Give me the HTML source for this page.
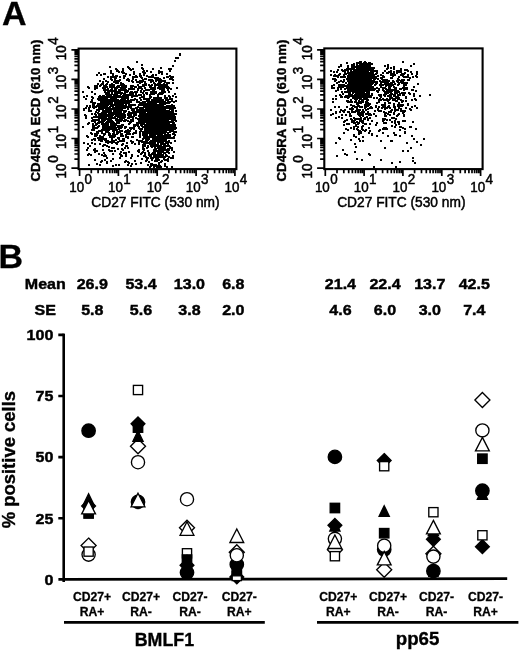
<!DOCTYPE html>
<html lang="en">
<head>
<meta charset="utf-8">
<title>Figure: CD27 / CD45RA phenotype of BMLF1- and pp65-specific cells</title>
<style>
html,body{margin:0;padding:0;background:#fff;}
body{width:520px;height:651px;overflow:hidden;}
svg{display:block;will-change:transform;}
text{font-family:"Liberation Sans",Arial,Helvetica,sans-serif;fill:#000;}
.pl{font-size:34px;font-weight:bold;stroke:#000;stroke-width:0.3px;}
.hd{font-size:15.2px;font-weight:bold;stroke:#000;stroke-width:0.45px;}
.ya{font-size:18.45px;font-weight:bold;stroke:#000;stroke-width:0.35px;}
.ct{font-size:12.15px;font-weight:bold;stroke:#000;stroke-width:0.3px;}
.gp{font-size:17.8px;font-weight:bold;stroke:#000;stroke-width:0.35px;}
.tk{font-size:14.1px;stroke:#000;stroke-width:0.5px;}
.yl{font-size:13.2px;font-weight:bold;stroke:#000;stroke-width:0.4px;}
.xl{font-size:14.6px;stroke:#000;stroke-width:0.5px;}
</style>
</head>
<body>
<svg width="520" height="651" viewBox="0 0 520 651">
<rect x="0" y="0" width="520" height="651" fill="#fff"/>
<g id="panelA">
<text class="pl" x="1.9" y="25.4">A</text>
<path d="M180 54h0M180 55h0M176 58h0M178 58h0M175 61h0M137 62h0M142 65h0M173 66h0M110 67h0M128 67h0M129 68h0M142 68h0M161 68h0M116 69h0M123 69h0M130 69h0M133 69h0M143 69h0M153 69h0M169 69h0M171 69h0M117 70h0M123 70h0M131 70h0M111 71h0M117 71h0M118 71h0M123 71h0M144 71h0M147 71h0M159 71h0M170 71h0M119 72h0M122 72h0M123 72h0M134 72h0M143 72h0M151 72h0M159 72h0M160 72h0M162 72h0M99 73h0M111 73h0M123 73h0M124 73h0M144 73h0M145 73h0M159 73h0M104 74h0M105 74h0M113 74h0M126 74h0M134 74h0M140 74h0M162 74h0M167 74h0M97 75h0M101 75h0M113 75h0M130 75h0M144 75h0M153 75h0M156 75h0M116 76h0M117 76h0M124 76h0M125 76h0M136 76h0M140 76h0M141 76h0M147 76h0M152 76h0M170 76h0M108 77h0M111 77h0M113 77h0M115 77h0M120 77h0M133 77h0M135 77h0M137 77h0M141 77h0M149 77h0M151 77h0M153 77h0M167 77h0M168 77h0M171 77h0M172 77h0M173 77h0M115 78h0M116 78h0M124 78h0M142 78h0M155 78h0M156 78h0M158 78h0M164 78h0M172 78h0M104 79h0M111 79h0M115 79h0M128 79h0M133 79h0M145 79h0M146 79h0M156 79h0M160 79h0M170 79h0M172 79h0M112 80h0M120 80h0M127 80h0M129 80h0M136 80h0M143 80h0M149 80h0M150 80h0M152 80h0M157 80h0M158 80h0M160 80h0M161 80h0M173 80h0M100 81h0M106 81h0M115 81h0M116 81h0M118 81h0M119 81h0M129 81h0M132 81h0M140 81h0M141 81h0M143 81h0M153 81h0M156 81h0M160 81h0M163 81h0M165 81h0M103 82h0M108 82h0M114 82h0M116 82h0M133 82h0M137 82h0M138 82h0M142 82h0M145 82h0M151 82h0M159 82h0M161 82h0M165 82h0M103 83h0M116 83h0M118 83h0M121 83h0M140 83h0M154 83h0M167 83h0M168 83h0M169 83h0M173 83h0M98 84h0M102 84h0M103 84h0M107 84h0M112 84h0M122 84h0M123 84h0M145 84h0M146 84h0M155 84h0M158 84h0M160 84h0M164 84h0M101 85h0M106 85h0M110 85h0M114 85h0M121 85h0M123 85h0M124 85h0M138 85h0M143 85h0M146 85h0M149 85h0M152 85h0M155 85h0M157 85h0M158 85h0M160 85h0M161 85h0M163 85h0M164 85h0M165 85h0M167 85h0M95 86h0M97 86h0M100 86h0M104 86h0M106 86h0M110 86h0M111 86h0M112 86h0M118 86h0M119 86h0M126 86h0M131 86h0M133 86h0M143 86h0M144 86h0M150 86h0M155 86h0M159 86h0M163 86h0M165 86h0M88 87h0M107 87h0M110 87h0M111 87h0M114 87h0M117 87h0M119 87h0M122 87h0M123 87h0M124 87h0M126 87h0M131 87h0M135 87h0M136 87h0M139 87h0M141 87h0M150 87h0M151 87h0M155 87h0M159 87h0M160 87h0M161 87h0M164 87h0M166 87h0M168 87h0M89 88h0M95 88h0M97 88h0M103 88h0M104 88h0M105 88h0M112 88h0M115 88h0M116 88h0M117 88h0M121 88h0M122 88h0M124 88h0M125 88h0M132 88h0M140 88h0M145 88h0M153 88h0M154 88h0M158 88h0M161 88h0M163 88h0M167 88h0M168 88h0M169 88h0M177 88h0M95 89h0M108 89h0M116 89h0M121 89h0M129 89h0M130 89h0M132 89h0M134 89h0M138 89h0M142 89h0M151 89h0M152 89h0M153 89h0M154 89h0M155 89h0M160 89h0M164 89h0M171 89h0M104 90h0M105 90h0M107 90h0M108 90h0M111 90h0M112 90h0M115 90h0M119 90h0M122 90h0M124 90h0M125 90h0M126 90h0M138 90h0M146 90h0M147 90h0M148 90h0M149 90h0M162 90h0M164 90h0M168 90h0M108 91h0M109 91h0M110 91h0M114 91h0M115 91h0M116 91h0M119 91h0M120 91h0M125 91h0M128 91h0M141 91h0M144 91h0M153 91h0M154 91h0M83 92h0M92 92h0M105 92h0M109 92h0M112 92h0M115 92h0M117 92h0M118 92h0M119 92h0M120 92h0M127 92h0M131 92h0M132 92h0M135 92h0M137 92h0M141 92h0M151 92h0M154 92h0M156 92h0M162 92h0M163 92h0M165 92h0M169 92h0M106 93h0M107 93h0M115 93h0M117 93h0M119 93h0M122 93h0M125 93h0M130 93h0M131 93h0M133 93h0M143 93h0M146 93h0M147 93h0M153 93h0M156 93h0M160 93h0M163 93h0M95 94h0M106 94h0M108 94h0M109 94h0M112 94h0M121 94h0M124 94h0M133 94h0M136 94h0M147 94h0M151 94h0M153 94h0M154 94h0M159 94h0M161 94h0M162 94h0M175 94h0M108 95h0M109 95h0M110 95h0M114 95h0M115 95h0M117 95h0M126 95h0M128 95h0M130 95h0M132 95h0M139 95h0M141 95h0M144 95h0M150 95h0M158 95h0M87 96h0M100 96h0M103 96h0M104 96h0M107 96h0M111 96h0M117 96h0M118 96h0M120 96h0M123 96h0M125 96h0M132 96h0M133 96h0M135 96h0M137 96h0M150 96h0M165 96h0M169 96h0M173 96h0M84 97h0M92 97h0M99 97h0M102 97h0M106 97h0M107 97h0M108 97h0M109 97h0M110 97h0M111 97h0M113 97h0M114 97h0M115 97h0M116 97h0M117 97h0M119 97h0M120 97h0M122 97h0M124 97h0M127 97h0M128 97h0M132 97h0M142 97h0M144 97h0M151 97h0M158 97h0M170 97h0M176 97h0M93 98h0M100 98h0M104 98h0M105 98h0M106 98h0M107 98h0M111 98h0M112 98h0M114 98h0M115 98h0M116 98h0M123 98h0M124 98h0M126 98h0M140 98h0M144 98h0M150 98h0M154 98h0M156 98h0M157 98h0M158 98h0M160 98h0M161 98h0M165 98h0M167 98h0M86 99h0M98 99h0M101 99h0M102 99h0M105 99h0M106 99h0M111 99h0M112 99h0M114 99h0M115 99h0M122 99h0M123 99h0M124 99h0M128 99h0M135 99h0M144 99h0M146 99h0M147 99h0M149 99h0M154 99h0M155 99h0M158 99h0M161 99h0M170 99h0M172 99h0M92 100h0M99 100h0M102 100h0M103 100h0M105 100h0M107 100h0M108 100h0M110 100h0M112 100h0M113 100h0M114 100h0M116 100h0M118 100h0M121 100h0M123 100h0M124 100h0M125 100h0M131 100h0M133 100h0M134 100h0M137 100h0M141 100h0M149 100h0M152 100h0M157 100h0M159 100h0M160 100h0M162 100h0M163 100h0M166 100h0M168 100h0M172 100h0M92 101h0M101 101h0M102 101h0M103 101h0M107 101h0M109 101h0M110 101h0M112 101h0M114 101h0M115 101h0M118 101h0M119 101h0M121 101h0M122 101h0M125 101h0M126 101h0M127 101h0M129 101h0M131 101h0M147 101h0M148 101h0M154 101h0M155 101h0M159 101h0M163 101h0M168 101h0M172 101h0M176 101h0M91 102h0M101 102h0M104 102h0M106 102h0M107 102h0M108 102h0M116 102h0M118 102h0M120 102h0M123 102h0M125 102h0M127 102h0M128 102h0M131 102h0M137 102h0M139 102h0M143 102h0M145 102h0M148 102h0M150 102h0M152 102h0M153 102h0M154 102h0M157 102h0M159 102h0M160 102h0M162 102h0M165 102h0M168 102h0M170 102h0M174 102h0M93 103h0M94 103h0M95 103h0M103 103h0M104 103h0M106 103h0M108 103h0M110 103h0M111 103h0M112 103h0M115 103h0M119 103h0M121 103h0M122 103h0M123 103h0M124 103h0M126 103h0M127 103h0M128 103h0M129 103h0M141 103h0M152 103h0M153 103h0M154 103h0M155 103h0M156 103h0M160 103h0M162 103h0M164 103h0M165 103h0M166 103h0M167 103h0M169 103h0M98 104h0M99 104h0M100 104h0M102 104h0M105 104h0M108 104h0M109 104h0M111 104h0M116 104h0M118 104h0M121 104h0M123 104h0M140 104h0M142 104h0M143 104h0M144 104h0M146 104h0M147 104h0M149 104h0M151 104h0M152 104h0M154 104h0M156 104h0M160 104h0M163 104h0M164 104h0M165 104h0M93 105h0M94 105h0M98 105h0M101 105h0M102 105h0M103 105h0M104 105h0M105 105h0M106 105h0M108 105h0M111 105h0M113 105h0M114 105h0M115 105h0M116 105h0M117 105h0M120 105h0M126 105h0M129 105h0M131 105h0M133 105h0M135 105h0M139 105h0M141 105h0M142 105h0M143 105h0M144 105h0M147 105h0M149 105h0M150 105h0M157 105h0M159 105h0M161 105h0M163 105h0M172 105h0M87 106h0M90 106h0M94 106h0M97 106h0M99 106h0M103 106h0M105 106h0M106 106h0M107 106h0M111 106h0M112 106h0M113 106h0M116 106h0M117 106h0M118 106h0M120 106h0M122 106h0M123 106h0M124 106h0M126 106h0M131 106h0M145 106h0M147 106h0M149 106h0M152 106h0M153 106h0M154 106h0M155 106h0M158 106h0M159 106h0M162 106h0M167 106h0M168 106h0M169 106h0M171 106h0M173 106h0M174 106h0M90 107h0M93 107h0M94 107h0M96 107h0M101 107h0M103 107h0M104 107h0M110 107h0M116 107h0M117 107h0M119 107h0M120 107h0M122 107h0M123 107h0M127 107h0M129 107h0M138 107h0M144 107h0M145 107h0M146 107h0M147 107h0M149 107h0M151 107h0M153 107h0M155 107h0M157 107h0M158 107h0M159 107h0M160 107h0M161 107h0M164 107h0M166 107h0M167 107h0M172 107h0M86 108h0M89 108h0M94 108h0M99 108h0M100 108h0M101 108h0M102 108h0M104 108h0M106 108h0M108 108h0M109 108h0M113 108h0M114 108h0M117 108h0M118 108h0M122 108h0M124 108h0M125 108h0M128 108h0M131 108h0M136 108h0M140 108h0M141 108h0M143 108h0M146 108h0M148 108h0M149 108h0M150 108h0M152 108h0M154 108h0M156 108h0M160 108h0M163 108h0M165 108h0M166 108h0M167 108h0M169 108h0M170 108h0M173 108h0M175 108h0M84 109h0M89 109h0M99 109h0M100 109h0M101 109h0M106 109h0M107 109h0M108 109h0M109 109h0M110 109h0M112 109h0M113 109h0M114 109h0M116 109h0M117 109h0M118 109h0M119 109h0M120 109h0M122 109h0M128 109h0M132 109h0M134 109h0M137 109h0M140 109h0M143 109h0M148 109h0M151 109h0M153 109h0M154 109h0M155 109h0M156 109h0M157 109h0M159 109h0M160 109h0M161 109h0M170 109h0M172 109h0M84 110h0M89 110h0M97 110h0M99 110h0M103 110h0M106 110h0M107 110h0M108 110h0M109 110h0M110 110h0M111 110h0M114 110h0M116 110h0M118 110h0M120 110h0M121 110h0M122 110h0M132 110h0M133 110h0M134 110h0M138 110h0M140 110h0M141 110h0M142 110h0M143 110h0M144 110h0M146 110h0M147 110h0M148 110h0M150 110h0M151 110h0M153 110h0M154 110h0M155 110h0M157 110h0M159 110h0M160 110h0M162 110h0M163 110h0M165 110h0M173 110h0M89 111h0M91 111h0M99 111h0M104 111h0M105 111h0M106 111h0M108 111h0M109 111h0M111 111h0M115 111h0M116 111h0M117 111h0M119 111h0M120 111h0M124 111h0M126 111h0M137 111h0M139 111h0M146 111h0M148 111h0M149 111h0M150 111h0M151 111h0M152 111h0M153 111h0M154 111h0M155 111h0M156 111h0M157 111h0M158 111h0M160 111h0M161 111h0M162 111h0M163 111h0M164 111h0M167 111h0M168 111h0M169 111h0M172 111h0M176 111h0M96 112h0M103 112h0M106 112h0M107 112h0M109 112h0M110 112h0M111 112h0M114 112h0M115 112h0M118 112h0M120 112h0M121 112h0M124 112h0M125 112h0M129 112h0M133 112h0M135 112h0M138 112h0M140 112h0M141 112h0M143 112h0M144 112h0M145 112h0M148 112h0M149 112h0M150 112h0M151 112h0M152 112h0M154 112h0M156 112h0M157 112h0M158 112h0M159 112h0M160 112h0M161 112h0M162 112h0M163 112h0M165 112h0M167 112h0M169 112h0M170 112h0M171 112h0M173 112h0M98 113h0M102 113h0M103 113h0M104 113h0M105 113h0M109 113h0M110 113h0M112 113h0M113 113h0M115 113h0M116 113h0M119 113h0M121 113h0M130 113h0M132 113h0M136 113h0M141 113h0M143 113h0M144 113h0M149 113h0M150 113h0M151 113h0M152 113h0M153 113h0M155 113h0M156 113h0M158 113h0M159 113h0M161 113h0M162 113h0M163 113h0M164 113h0M165 113h0M166 113h0M167 113h0M171 113h0M172 113h0M92 114h0M95 114h0M99 114h0M101 114h0M102 114h0M103 114h0M104 114h0M105 114h0M106 114h0M111 114h0M112 114h0M113 114h0M114 114h0M116 114h0M117 114h0M118 114h0M119 114h0M120 114h0M121 114h0M122 114h0M123 114h0M124 114h0M128 114h0M134 114h0M140 114h0M141 114h0M142 114h0M146 114h0M147 114h0M148 114h0M150 114h0M151 114h0M152 114h0M153 114h0M155 114h0M156 114h0M157 114h0M158 114h0M159 114h0M160 114h0M161 114h0M162 114h0M163 114h0M165 114h0M167 114h0M169 114h0M172 114h0M174 114h0M176 114h0M85 115h0M96 115h0M99 115h0M103 115h0M106 115h0M107 115h0M109 115h0M113 115h0M117 115h0M119 115h0M121 115h0M122 115h0M125 115h0M128 115h0M129 115h0M131 115h0M136 115h0M140 115h0M142 115h0M143 115h0M145 115h0M146 115h0M148 115h0M149 115h0M153 115h0M154 115h0M155 115h0M156 115h0M157 115h0M158 115h0M159 115h0M160 115h0M161 115h0M162 115h0M163 115h0M164 115h0M165 115h0M168 115h0M169 115h0M170 115h0M171 115h0M172 115h0M174 115h0M86 116h0M96 116h0M100 116h0M102 116h0M104 116h0M105 116h0M106 116h0M108 116h0M110 116h0M111 116h0M112 116h0M116 116h0M117 116h0M124 116h0M129 116h0M131 116h0M134 116h0M139 116h0M141 116h0M145 116h0M147 116h0M148 116h0M149 116h0M150 116h0M151 116h0M153 116h0M155 116h0M156 116h0M158 116h0M159 116h0M160 116h0M162 116h0M163 116h0M164 116h0M165 116h0M166 116h0M167 116h0M168 116h0M169 116h0M170 116h0M171 116h0M173 116h0M94 117h0M95 117h0M96 117h0M97 117h0M99 117h0M100 117h0M102 117h0M105 117h0M110 117h0M111 117h0M115 117h0M118 117h0M119 117h0M120 117h0M122 117h0M124 117h0M125 117h0M131 117h0M132 117h0M133 117h0M141 117h0M142 117h0M143 117h0M144 117h0M148 117h0M149 117h0M150 117h0M151 117h0M152 117h0M154 117h0M155 117h0M156 117h0M157 117h0M158 117h0M159 117h0M160 117h0M161 117h0M163 117h0M166 117h0M167 117h0M168 117h0M169 117h0M172 117h0M175 117h0M86 118h0M92 118h0M99 118h0M100 118h0M102 118h0M104 118h0M106 118h0M109 118h0M111 118h0M112 118h0M114 118h0M115 118h0M124 118h0M128 118h0M129 118h0M133 118h0M136 118h0M140 118h0M141 118h0M144 118h0M146 118h0M148 118h0M152 118h0M153 118h0M154 118h0M155 118h0M156 118h0M157 118h0M158 118h0M159 118h0M160 118h0M162 118h0M163 118h0M164 118h0M169 118h0M170 118h0M172 118h0M174 118h0M102 119h0M103 119h0M106 119h0M108 119h0M110 119h0M111 119h0M116 119h0M117 119h0M120 119h0M121 119h0M122 119h0M138 119h0M139 119h0M140 119h0M142 119h0M143 119h0M144 119h0M147 119h0M149 119h0M150 119h0M151 119h0M152 119h0M155 119h0M156 119h0M158 119h0M159 119h0M160 119h0M161 119h0M162 119h0M164 119h0M165 119h0M167 119h0M169 119h0M170 119h0M173 119h0M174 119h0M175 119h0M93 120h0M95 120h0M97 120h0M98 120h0M99 120h0M105 120h0M109 120h0M116 120h0M118 120h0M119 120h0M122 120h0M125 120h0M126 120h0M131 120h0M133 120h0M141 120h0M142 120h0M146 120h0M149 120h0M150 120h0M151 120h0M152 120h0M153 120h0M154 120h0M155 120h0M156 120h0M157 120h0M158 120h0M160 120h0M161 120h0M162 120h0M163 120h0M165 120h0M166 120h0M168 120h0M172 120h0M173 120h0M175 120h0M92 121h0M93 121h0M99 121h0M102 121h0M104 121h0M108 121h0M110 121h0M112 121h0M119 121h0M121 121h0M124 121h0M125 121h0M128 121h0M131 121h0M133 121h0M139 121h0M143 121h0M145 121h0M147 121h0M149 121h0M151 121h0M152 121h0M153 121h0M155 121h0M156 121h0M157 121h0M158 121h0M159 121h0M160 121h0M161 121h0M162 121h0M163 121h0M164 121h0M165 121h0M167 121h0M168 121h0M173 121h0M176 121h0M95 122h0M101 122h0M102 122h0M103 122h0M107 122h0M108 122h0M109 122h0M110 122h0M111 122h0M112 122h0M113 122h0M117 122h0M118 122h0M119 122h0M130 122h0M131 122h0M139 122h0M141 122h0M142 122h0M143 122h0M144 122h0M146 122h0M147 122h0M148 122h0M150 122h0M151 122h0M152 122h0M153 122h0M154 122h0M155 122h0M157 122h0M159 122h0M160 122h0M161 122h0M162 122h0M164 122h0M165 122h0M168 122h0M169 122h0M171 122h0M173 122h0M89 123h0M98 123h0M99 123h0M102 123h0M103 123h0M106 123h0M108 123h0M111 123h0M114 123h0M117 123h0M118 123h0M119 123h0M130 123h0M137 123h0M139 123h0M142 123h0M143 123h0M147 123h0M148 123h0M149 123h0M151 123h0M152 123h0M153 123h0M154 123h0M155 123h0M156 123h0M158 123h0M159 123h0M161 123h0M162 123h0M163 123h0M164 123h0M165 123h0M166 123h0M168 123h0M173 123h0M174 123h0M88 124h0M93 124h0M96 124h0M97 124h0M102 124h0M103 124h0M105 124h0M106 124h0M108 124h0M111 124h0M112 124h0M115 124h0M116 124h0M129 124h0M137 124h0M138 124h0M141 124h0M143 124h0M144 124h0M147 124h0M148 124h0M150 124h0M151 124h0M152 124h0M153 124h0M154 124h0M155 124h0M156 124h0M158 124h0M159 124h0M160 124h0M161 124h0M162 124h0M164 124h0M165 124h0M169 124h0M174 124h0M93 125h0M96 125h0M103 125h0M104 125h0M108 125h0M112 125h0M113 125h0M114 125h0M116 125h0M122 125h0M123 125h0M134 125h0M136 125h0M137 125h0M141 125h0M142 125h0M145 125h0M146 125h0M147 125h0M148 125h0M149 125h0M150 125h0M151 125h0M152 125h0M153 125h0M154 125h0M155 125h0M156 125h0M157 125h0M158 125h0M159 125h0M161 125h0M162 125h0M163 125h0M164 125h0M166 125h0M167 125h0M169 125h0M170 125h0M171 125h0M172 125h0M173 125h0M175 125h0M94 126h0M99 126h0M104 126h0M105 126h0M106 126h0M111 126h0M113 126h0M114 126h0M118 126h0M120 126h0M122 126h0M135 126h0M138 126h0M142 126h0M148 126h0M149 126h0M152 126h0M153 126h0M154 126h0M155 126h0M156 126h0M157 126h0M158 126h0M159 126h0M160 126h0M161 126h0M163 126h0M164 126h0M165 126h0M167 126h0M168 126h0M170 126h0M172 126h0M174 126h0M175 126h0M83 127h0M93 127h0M98 127h0M103 127h0M104 127h0M107 127h0M108 127h0M109 127h0M110 127h0M115 127h0M118 127h0M121 127h0M122 127h0M125 127h0M126 127h0M134 127h0M139 127h0M143 127h0M145 127h0M146 127h0M148 127h0M149 127h0M150 127h0M152 127h0M153 127h0M154 127h0M155 127h0M156 127h0M157 127h0M158 127h0M159 127h0M160 127h0M161 127h0M163 127h0M164 127h0M166 127h0M167 127h0M168 127h0M175 127h0M93 128h0M95 128h0M97 128h0M103 128h0M104 128h0M105 128h0M107 128h0M108 128h0M110 128h0M111 128h0M113 128h0M114 128h0M115 128h0M116 128h0M120 128h0M121 128h0M125 128h0M130 128h0M132 128h0M139 128h0M145 128h0M148 128h0M150 128h0M151 128h0M154 128h0M155 128h0M157 128h0M158 128h0M159 128h0M161 128h0M162 128h0M164 128h0M165 128h0M166 128h0M167 128h0M168 128h0M169 128h0M170 128h0M172 128h0M174 128h0M176 128h0M94 129h0M103 129h0M105 129h0M107 129h0M108 129h0M109 129h0M111 129h0M113 129h0M116 129h0M119 129h0M131 129h0M134 129h0M140 129h0M142 129h0M146 129h0M149 129h0M150 129h0M151 129h0M152 129h0M153 129h0M155 129h0M157 129h0M159 129h0M160 129h0M164 129h0M165 129h0M167 129h0M169 129h0M173 129h0M175 129h0M92 130h0M94 130h0M102 130h0M104 130h0M106 130h0M108 130h0M109 130h0M113 130h0M115 130h0M117 130h0M128 130h0M145 130h0M146 130h0M147 130h0M149 130h0M150 130h0M153 130h0M154 130h0M155 130h0M156 130h0M157 130h0M159 130h0M160 130h0M161 130h0M162 130h0M163 130h0M167 130h0M168 130h0M170 130h0M171 130h0M99 131h0M101 131h0M108 131h0M113 131h0M114 131h0M120 131h0M121 131h0M122 131h0M126 131h0M130 131h0M136 131h0M141 131h0M146 131h0M148 131h0M149 131h0M152 131h0M153 131h0M154 131h0M157 131h0M158 131h0M160 131h0M161 131h0M162 131h0M163 131h0M165 131h0M171 131h0M172 131h0M173 131h0M97 132h0M102 132h0M106 132h0M107 132h0M114 132h0M117 132h0M119 132h0M120 132h0M125 132h0M127 132h0M128 132h0M129 132h0M140 132h0M143 132h0M145 132h0M147 132h0M148 132h0M150 132h0M155 132h0M156 132h0M160 132h0M161 132h0M162 132h0M164 132h0M165 132h0M166 132h0M170 132h0M174 132h0M176 132h0M91 133h0M98 133h0M102 133h0M109 133h0M114 133h0M117 133h0M118 133h0M134 133h0M136 133h0M140 133h0M143 133h0M144 133h0M146 133h0M148 133h0M150 133h0M152 133h0M154 133h0M156 133h0M157 133h0M158 133h0M159 133h0M161 133h0M164 133h0M165 133h0M168 133h0M174 133h0M92 134h0M95 134h0M97 134h0M104 134h0M105 134h0M109 134h0M110 134h0M113 134h0M117 134h0M121 134h0M122 134h0M127 134h0M128 134h0M130 134h0M133 134h0M143 134h0M146 134h0M150 134h0M151 134h0M154 134h0M155 134h0M156 134h0M157 134h0M159 134h0M160 134h0M161 134h0M162 134h0M165 134h0M168 134h0M173 134h0M174 134h0M97 135h0M104 135h0M109 135h0M115 135h0M126 135h0M140 135h0M143 135h0M145 135h0M146 135h0M147 135h0M150 135h0M151 135h0M152 135h0M153 135h0M155 135h0M158 135h0M159 135h0M160 135h0M161 135h0M162 135h0M165 135h0M166 135h0M170 135h0M175 135h0M87 136h0M95 136h0M96 136h0M100 136h0M111 136h0M112 136h0M114 136h0M115 136h0M121 136h0M123 136h0M140 136h0M146 136h0M150 136h0M152 136h0M153 136h0M154 136h0M158 136h0M159 136h0M161 136h0M162 136h0M163 136h0M164 136h0M165 136h0M166 136h0M168 136h0M169 136h0M170 136h0M88 137h0M100 137h0M101 137h0M102 137h0M103 137h0M110 137h0M111 137h0M114 137h0M126 137h0M128 137h0M132 137h0M133 137h0M140 137h0M144 137h0M148 137h0M150 137h0M151 137h0M153 137h0M154 137h0M155 137h0M156 137h0M157 137h0M158 137h0M159 137h0M160 137h0M162 137h0M164 137h0M166 137h0M167 137h0M168 137h0M170 137h0M174 137h0M98 138h0M100 138h0M112 138h0M118 138h0M119 138h0M128 138h0M144 138h0M145 138h0M146 138h0M153 138h0M155 138h0M156 138h0M157 138h0M160 138h0M161 138h0M163 138h0M164 138h0M165 138h0M167 138h0M168 138h0M170 138h0M171 138h0M173 138h0M174 138h0M94 139h0M95 139h0M99 139h0M102 139h0M104 139h0M106 139h0M112 139h0M119 139h0M123 139h0M124 139h0M143 139h0M147 139h0M148 139h0M149 139h0M154 139h0M157 139h0M158 139h0M160 139h0M162 139h0M164 139h0M92 140h0M95 140h0M99 140h0M100 140h0M105 140h0M106 140h0M112 140h0M116 140h0M137 140h0M146 140h0M148 140h0M153 140h0M154 140h0M155 140h0M157 140h0M158 140h0M160 140h0M162 140h0M164 140h0M165 140h0M166 140h0M101 141h0M102 141h0M108 141h0M112 141h0M114 141h0M120 141h0M122 141h0M124 141h0M131 141h0M139 141h0M140 141h0M142 141h0M147 141h0M151 141h0M153 141h0M156 141h0M157 141h0M158 141h0M159 141h0M161 141h0M162 141h0M163 141h0M164 141h0M165 141h0M169 141h0M175 141h0M106 142h0M109 142h0M111 142h0M114 142h0M118 142h0M132 142h0M133 142h0M142 142h0M143 142h0M145 142h0M150 142h0M152 142h0M154 142h0M155 142h0M160 142h0M162 142h0M163 142h0M167 142h0M169 142h0M84 143h0M92 143h0M108 143h0M112 143h0M116 143h0M127 143h0M132 143h0M139 143h0M144 143h0M145 143h0M147 143h0M148 143h0M149 143h0M152 143h0M158 143h0M161 143h0M162 143h0M163 143h0M166 143h0M171 143h0M88 144h0M95 144h0M100 144h0M117 144h0M123 144h0M135 144h0M139 144h0M145 144h0M150 144h0M152 144h0M153 144h0M155 144h0M161 144h0M162 144h0M163 144h0M164 144h0M165 144h0M168 144h0M104 145h0M105 145h0M122 145h0M143 145h0M153 145h0M154 145h0M156 145h0M157 145h0M158 145h0M164 145h0M90 146h0M103 146h0M107 146h0M126 146h0M127 146h0M145 146h0M148 146h0M151 146h0M153 146h0M154 146h0M156 146h0M158 146h0M159 146h0M161 146h0M165 146h0M167 146h0M169 146h0M109 147h0M143 147h0M148 147h0M152 147h0M163 147h0M164 147h0M170 147h0M88 148h0M112 148h0M114 148h0M125 148h0M128 148h0M147 148h0M155 148h0M158 148h0M159 148h0M160 148h0M161 148h0M162 148h0M163 148h0M164 148h0M165 148h0M170 148h0M172 148h0M95 149h0M118 149h0M122 149h0M143 149h0M144 149h0M156 149h0M164 149h0M168 149h0M87 150h0M94 150h0M95 150h0M103 150h0M109 150h0M123 150h0M139 150h0M144 150h0M154 150h0M159 150h0M160 150h0M161 150h0M162 150h0M164 150h0M166 150h0M169 150h0M172 150h0M97 151h0M110 151h0M112 151h0M115 151h0M138 151h0M148 151h0M154 151h0M155 151h0M157 151h0M158 151h0M162 151h0M168 151h0M95 152h0M121 152h0M129 152h0M139 152h0M143 152h0M155 152h0M159 152h0M160 152h0M163 152h0M167 152h0M168 152h0M174 152h0M104 153h0M124 153h0M126 153h0M142 153h0M145 153h0M149 153h0M153 153h0M158 153h0M160 153h0M161 153h0M164 153h0M165 153h0M169 153h0M89 154h0M99 154h0M113 154h0M120 154h0M126 154h0M141 154h0M152 154h0M154 154h0M155 154h0M158 154h0M88 155h0M91 155h0M102 155h0M105 155h0M121 155h0M132 155h0M145 155h0M149 155h0M150 155h0M151 155h0M154 155h0M156 155h0M158 155h0M160 155h0M162 155h0M163 155h0M166 155h0M104 156h0M106 156h0M121 156h0M122 156h0M126 156h0M132 156h0M138 156h0M144 156h0M150 156h0M151 156h0M156 156h0M157 156h0M158 156h0M160 156h0M161 156h0M163 156h0M167 156h0M173 156h0M146 157h0M154 157h0M156 157h0M157 157h0M159 157h0M161 157h0M162 157h0M164 157h0M165 157h0M169 157h0M107 158h0M120 158h0M131 158h0M148 158h0M151 158h0M153 158h0M156 158h0M157 158h0M171 158h0M173 158h0M113 159h0M142 159h0M147 159h0M158 159h0M164 159h0M168 159h0M95 160h0M105 160h0M147 160h0M152 160h0M156 160h0M159 160h0M165 160h0M166 160h0M168 160h0M102 161h0M111 161h0M126 161h0M135 161h0M146 161h0M155 161h0M157 161h0M162 161h0M168 161h0M101 162h0M107 162h0M125 162h0M128 162h0M149 162h0M161 162h0M107 163h0M129 163h0M141 163h0M159 163h0M97 164h0M132 164h0M136 164h0M151 164h0M152 164h0M165 164h0M89 165h0M100 165h0M116 165h0M119 165h0M128 165h0M148 165h0M153 165h0M155 165h0M156 165h0M159 165h0M165 165h0M113 166h0M131 166h0M151 166h0M154 166h0M156 166h0M157 166h0M158 166h0M160 166h0M165 166h0M150 167h0M154 167h0M157 167h0M158 167h0M159 167h0M161 167h0M167 167h0M172 167h0" fill="none" stroke="#000" shape-rendering="crispEdges" stroke-width="2" stroke-linecap="square"/>
<rect x="78.6" y="48.6" width="157.8" height="120.5" fill="none" stroke="#000" stroke-width="2.1"/><path d="M79.6 169.1v7M78.6 168.1h-7.2M91.3 169.1v4.2M78.6 159.2h-4.2M98.1 169.1v4.2M78.6 154h-4.2M103 169.1v4.2M78.6 150.3h-4.2M106.7 169.1v4.2M78.6 147.4h-4.2M109.8 169.1v4.2M78.6 145.1h-4.2M112.4 169.1v4.2M78.6 143.1h-4.2M114.7 169.1v4.2M78.6 141.4h-4.2M116.6 169.1v4.2M78.6 139.9h-4.2M118.4 169.1v7M78.6 138.5h-7.2M130.1 169.1v4.2M78.6 129.7h-4.2M136.9 169.1v4.2M78.6 124.5h-4.2M141.8 169.1v4.2M78.6 120.8h-4.2M145.6 169.1v4.2M78.6 117.9h-4.2M148.6 169.1v4.2M78.6 115.6h-4.2M151.2 169.1v4.2M78.6 113.6h-4.2M153.5 169.1v4.2M78.6 111.9h-4.2M155.5 169.1v4.2M78.6 110.4h-4.2M157.2 169.1v7M78.6 109h-7.2M168.9 169.1v4.2M78.6 100.1h-4.2M175.8 169.1v4.2M78.6 94.9h-4.2M180.6 169.1v4.2M78.6 91.2h-4.2M184.4 169.1v4.2M78.6 88.3h-4.2M187.4 169.1v4.2M78.6 86h-4.2M190 169.1v4.2M78.6 84h-4.2M192.3 169.1v4.2M78.6 82.3h-4.2M194.3 169.1v4.2M78.6 80.8h-4.2M196.1 169.1v7M78.6 79.4h-7.2M207.7 169.1v4.2M78.6 70.6h-4.2M214.6 169.1v4.2M78.6 65.4h-4.2M219.4 169.1v4.2M78.6 61.7h-4.2M223.2 169.1v4.2M78.6 58.8h-4.2M226.3 169.1v4.2M78.6 56.5h-4.2M228.9 169.1v4.2M78.6 54.5h-4.2M231.1 169.1v4.2M78.6 52.8h-4.2M233.1 169.1v4.2M78.6 51.3h-4.2M234.9 169.1v7M78.6 49.9h-7.2" stroke="#000" stroke-width="1.7" fill="none"/>
<text class="tk" transform="translate(69.2 192.2) scale(0.95 1)">10<tspan dy="-8" dx="0.4">0</tspan></text><text class="tk" transform="translate(66 178.5) rotate(-90) scale(0.95 1)">10<tspan dy="-8.4" dx="0.8">0</tspan></text><text class="tk" transform="translate(108 192.2) scale(0.95 1)">10<tspan dy="-8" dx="0.4">1</tspan></text><text class="tk" transform="translate(66 148.9) rotate(-90) scale(0.95 1)">10<tspan dy="-8.4" dx="0.8">1</tspan></text><text class="tk" transform="translate(146.8 192.2) scale(0.95 1)">10<tspan dy="-8" dx="0.4">2</tspan></text><text class="tk" transform="translate(66 119.4) rotate(-90) scale(0.95 1)">10<tspan dy="-8.4" dx="0.8">2</tspan></text><text class="tk" transform="translate(185.7 192.2) scale(0.95 1)">10<tspan dy="-8" dx="0.4">3</tspan></text><text class="tk" transform="translate(66 89.8) rotate(-90) scale(0.95 1)">10<tspan dy="-8.4" dx="0.8">3</tspan></text><text class="tk" transform="translate(224.5 192.2) scale(0.95 1)">10<tspan dy="-8" dx="0.4">4</tspan></text><text class="tk" transform="translate(66 60.3) rotate(-90) scale(0.95 1)">10<tspan dy="-8.4" dx="0.8">4</tspan></text>
<text class="yl" transform="translate(39.7 181.4) rotate(-90)">CD45RA ECD (610 nm)</text>
<text class="xl" transform="translate(91.3 206.9) scale(0.942 1)">CD27 FITC (530 nm)</text>
<path d="M360 62h0M361 62h0M365 62h0M403 62h0M347 63h0M357 63h0M359 63h0M364 63h0M365 63h0M366 63h0M369 63h0M370 63h0M354 64h0M360 64h0M361 64h0M363 64h0M364 64h0M365 64h0M366 64h0M368 64h0M372 64h0M414 64h0M341 65h0M352 65h0M354 65h0M357 65h0M363 65h0M365 65h0M366 65h0M370 65h0M388 65h0M341 66h0M348 66h0M357 66h0M359 66h0M360 66h0M361 66h0M362 66h0M363 66h0M364 66h0M366 66h0M367 66h0M369 66h0M385 66h0M411 66h0M339 67h0M348 67h0M352 67h0M353 67h0M354 67h0M355 67h0M356 67h0M357 67h0M358 67h0M359 67h0M360 67h0M361 67h0M362 67h0M363 67h0M366 67h0M367 67h0M368 67h0M369 67h0M370 67h0M388 67h0M394 67h0M354 68h0M357 68h0M358 68h0M359 68h0M360 68h0M361 68h0M362 68h0M363 68h0M365 68h0M366 68h0M367 68h0M368 68h0M372 68h0M374 68h0M388 68h0M391 68h0M347 69h0M349 69h0M350 69h0M352 69h0M353 69h0M357 69h0M358 69h0M360 69h0M362 69h0M363 69h0M364 69h0M365 69h0M367 69h0M368 69h0M370 69h0M371 69h0M387 69h0M394 69h0M401 69h0M338 70h0M342 70h0M345 70h0M347 70h0M354 70h0M355 70h0M357 70h0M358 70h0M359 70h0M360 70h0M361 70h0M362 70h0M363 70h0M365 70h0M366 70h0M367 70h0M368 70h0M369 70h0M371 70h0M373 70h0M405 70h0M406 70h0M407 70h0M331 71h0M343 71h0M344 71h0M348 71h0M351 71h0M354 71h0M355 71h0M356 71h0M357 71h0M358 71h0M360 71h0M361 71h0M362 71h0M363 71h0M364 71h0M365 71h0M366 71h0M367 71h0M368 71h0M372 71h0M375 71h0M377 71h0M385 71h0M391 71h0M397 71h0M399 71h0M401 71h0M408 71h0M334 72h0M337 72h0M345 72h0M352 72h0M353 72h0M354 72h0M355 72h0M356 72h0M357 72h0M358 72h0M359 72h0M360 72h0M361 72h0M362 72h0M363 72h0M365 72h0M366 72h0M367 72h0M371 72h0M373 72h0M377 72h0M389 72h0M391 72h0M394 72h0M397 72h0M399 72h0M400 72h0M401 72h0M411 72h0M417 72h0M345 73h0M348 73h0M349 73h0M351 73h0M352 73h0M354 73h0M355 73h0M356 73h0M357 73h0M358 73h0M359 73h0M360 73h0M361 73h0M362 73h0M363 73h0M365 73h0M366 73h0M367 73h0M369 73h0M370 73h0M377 73h0M383 73h0M387 73h0M388 73h0M397 73h0M405 73h0M340 74h0M346 74h0M349 74h0M351 74h0M352 74h0M353 74h0M354 74h0M355 74h0M356 74h0M357 74h0M358 74h0M359 74h0M360 74h0M361 74h0M362 74h0M363 74h0M364 74h0M365 74h0M366 74h0M367 74h0M368 74h0M370 74h0M371 74h0M373 74h0M376 74h0M391 74h0M392 74h0M393 74h0M394 74h0M402 74h0M403 74h0M404 74h0M412 74h0M417 74h0M331 75h0M335 75h0M339 75h0M344 75h0M350 75h0M351 75h0M352 75h0M353 75h0M354 75h0M355 75h0M356 75h0M357 75h0M358 75h0M359 75h0M360 75h0M361 75h0M362 75h0M363 75h0M364 75h0M365 75h0M366 75h0M367 75h0M368 75h0M369 75h0M370 75h0M371 75h0M372 75h0M373 75h0M374 75h0M381 75h0M391 75h0M394 75h0M395 75h0M401 75h0M408 75h0M334 76h0M336 76h0M338 76h0M348 76h0M349 76h0M351 76h0M354 76h0M356 76h0M357 76h0M358 76h0M359 76h0M360 76h0M361 76h0M362 76h0M363 76h0M364 76h0M365 76h0M366 76h0M367 76h0M368 76h0M369 76h0M370 76h0M371 76h0M372 76h0M373 76h0M374 76h0M378 76h0M383 76h0M393 76h0M403 76h0M416 76h0M338 77h0M341 77h0M343 77h0M345 77h0M349 77h0M350 77h0M351 77h0M353 77h0M354 77h0M355 77h0M356 77h0M357 77h0M358 77h0M359 77h0M360 77h0M361 77h0M362 77h0M363 77h0M364 77h0M365 77h0M366 77h0M367 77h0M368 77h0M369 77h0M371 77h0M373 77h0M376 77h0M384 77h0M399 77h0M404 77h0M406 77h0M408 77h0M413 77h0M417 77h0M348 78h0M350 78h0M351 78h0M353 78h0M354 78h0M355 78h0M356 78h0M357 78h0M358 78h0M359 78h0M360 78h0M361 78h0M362 78h0M363 78h0M364 78h0M365 78h0M366 78h0M367 78h0M368 78h0M369 78h0M370 78h0M372 78h0M373 78h0M375 78h0M376 78h0M381 78h0M382 78h0M391 78h0M392 78h0M410 78h0M333 79h0M335 79h0M347 79h0M350 79h0M352 79h0M353 79h0M354 79h0M355 79h0M356 79h0M357 79h0M358 79h0M359 79h0M360 79h0M361 79h0M362 79h0M363 79h0M364 79h0M365 79h0M366 79h0M367 79h0M368 79h0M369 79h0M371 79h0M374 79h0M375 79h0M378 79h0M382 79h0M398 79h0M336 80h0M344 80h0M349 80h0M352 80h0M353 80h0M354 80h0M355 80h0M356 80h0M357 80h0M358 80h0M359 80h0M360 80h0M361 80h0M362 80h0M363 80h0M364 80h0M365 80h0M366 80h0M367 80h0M368 80h0M369 80h0M370 80h0M371 80h0M383 80h0M385 80h0M386 80h0M387 80h0M399 80h0M402 80h0M404 80h0M408 80h0M409 80h0M335 81h0M341 81h0M344 81h0M348 81h0M351 81h0M353 81h0M354 81h0M355 81h0M356 81h0M357 81h0M358 81h0M359 81h0M360 81h0M361 81h0M362 81h0M363 81h0M364 81h0M365 81h0M366 81h0M367 81h0M368 81h0M369 81h0M371 81h0M372 81h0M374 81h0M380 81h0M383 81h0M384 81h0M385 81h0M389 81h0M393 81h0M397 81h0M398 81h0M401 81h0M403 81h0M339 82h0M343 82h0M349 82h0M351 82h0M352 82h0M353 82h0M354 82h0M355 82h0M356 82h0M357 82h0M358 82h0M359 82h0M360 82h0M361 82h0M362 82h0M363 82h0M364 82h0M365 82h0M366 82h0M367 82h0M368 82h0M369 82h0M370 82h0M372 82h0M375 82h0M377 82h0M382 82h0M384 82h0M386 82h0M388 82h0M394 82h0M398 82h0M401 82h0M402 82h0M403 82h0M337 83h0M346 83h0M349 83h0M350 83h0M351 83h0M353 83h0M354 83h0M355 83h0M356 83h0M357 83h0M358 83h0M359 83h0M360 83h0M361 83h0M362 83h0M363 83h0M364 83h0M365 83h0M366 83h0M367 83h0M368 83h0M369 83h0M370 83h0M372 83h0M373 83h0M377 83h0M381 83h0M385 83h0M391 83h0M392 83h0M399 83h0M402 83h0M403 83h0M404 83h0M405 83h0M406 83h0M407 83h0M351 84h0M352 84h0M353 84h0M354 84h0M355 84h0M356 84h0M357 84h0M358 84h0M359 84h0M360 84h0M361 84h0M362 84h0M363 84h0M364 84h0M365 84h0M366 84h0M367 84h0M370 84h0M372 84h0M376 84h0M381 84h0M385 84h0M386 84h0M388 84h0M390 84h0M392 84h0M395 84h0M399 84h0M405 84h0M418 84h0M334 85h0M339 85h0M341 85h0M342 85h0M344 85h0M348 85h0M349 85h0M350 85h0M352 85h0M353 85h0M354 85h0M355 85h0M356 85h0M357 85h0M358 85h0M359 85h0M360 85h0M361 85h0M362 85h0M363 85h0M364 85h0M365 85h0M366 85h0M367 85h0M368 85h0M371 85h0M375 85h0M380 85h0M382 85h0M383 85h0M388 85h0M389 85h0M391 85h0M392 85h0M393 85h0M398 85h0M404 85h0M405 85h0M406 85h0M332 86h0M345 86h0M346 86h0M348 86h0M349 86h0M350 86h0M353 86h0M354 86h0M356 86h0M357 86h0M358 86h0M359 86h0M360 86h0M361 86h0M362 86h0M364 86h0M365 86h0M366 86h0M367 86h0M368 86h0M369 86h0M370 86h0M371 86h0M386 86h0M389 86h0M391 86h0M404 86h0M332 87h0M339 87h0M340 87h0M341 87h0M342 87h0M343 87h0M348 87h0M352 87h0M353 87h0M354 87h0M355 87h0M356 87h0M358 87h0M359 87h0M360 87h0M361 87h0M362 87h0M363 87h0M364 87h0M365 87h0M366 87h0M367 87h0M368 87h0M369 87h0M370 87h0M371 87h0M372 87h0M373 87h0M381 87h0M389 87h0M390 87h0M394 87h0M414 87h0M332 88h0M334 88h0M338 88h0M347 88h0M348 88h0M349 88h0M350 88h0M352 88h0M353 88h0M354 88h0M357 88h0M358 88h0M359 88h0M360 88h0M361 88h0M362 88h0M363 88h0M364 88h0M365 88h0M366 88h0M367 88h0M369 88h0M370 88h0M371 88h0M372 88h0M377 88h0M383 88h0M385 88h0M389 88h0M395 88h0M396 88h0M403 88h0M405 88h0M407 88h0M341 89h0M345 89h0M348 89h0M350 89h0M352 89h0M353 89h0M355 89h0M356 89h0M358 89h0M359 89h0M360 89h0M361 89h0M362 89h0M363 89h0M364 89h0M365 89h0M367 89h0M371 89h0M372 89h0M373 89h0M375 89h0M379 89h0M386 89h0M390 89h0M396 89h0M400 89h0M401 89h0M406 89h0M407 89h0M338 90h0M352 90h0M353 90h0M354 90h0M355 90h0M356 90h0M358 90h0M359 90h0M360 90h0M361 90h0M362 90h0M363 90h0M364 90h0M365 90h0M367 90h0M368 90h0M370 90h0M371 90h0M373 90h0M374 90h0M379 90h0M383 90h0M388 90h0M392 90h0M393 90h0M394 90h0M404 90h0M412 90h0M413 90h0M336 91h0M348 91h0M350 91h0M352 91h0M353 91h0M355 91h0M356 91h0M357 91h0M359 91h0M361 91h0M362 91h0M364 91h0M366 91h0M367 91h0M368 91h0M377 91h0M384 91h0M387 91h0M389 91h0M390 91h0M392 91h0M395 91h0M396 91h0M398 91h0M416 91h0M342 92h0M345 92h0M346 92h0M347 92h0M350 92h0M353 92h0M354 92h0M357 92h0M358 92h0M360 92h0M361 92h0M362 92h0M363 92h0M364 92h0M367 92h0M368 92h0M369 92h0M378 92h0M386 92h0M390 92h0M397 92h0M399 92h0M349 93h0M350 93h0M353 93h0M356 93h0M358 93h0M360 93h0M361 93h0M362 93h0M364 93h0M367 93h0M369 93h0M385 93h0M388 93h0M391 93h0M395 93h0M397 93h0M402 93h0M403 93h0M405 93h0M409 93h0M343 94h0M357 94h0M358 94h0M361 94h0M362 94h0M364 94h0M365 94h0M367 94h0M372 94h0M385 94h0M386 94h0M392 94h0M400 94h0M410 94h0M414 94h0M340 95h0M349 95h0M350 95h0M352 95h0M355 95h0M356 95h0M359 95h0M361 95h0M362 95h0M364 95h0M367 95h0M369 95h0M372 95h0M379 95h0M381 95h0M384 95h0M390 95h0M391 95h0M394 95h0M395 95h0M398 95h0M400 95h0M403 95h0M404 95h0M430 95h0M336 96h0M341 96h0M346 96h0M348 96h0M350 96h0M352 96h0M354 96h0M355 96h0M357 96h0M358 96h0M360 96h0M363 96h0M366 96h0M368 96h0M369 96h0M371 96h0M380 96h0M385 96h0M388 96h0M389 96h0M394 96h0M395 96h0M414 96h0M420 96h0M341 97h0M342 97h0M345 97h0M346 97h0M349 97h0M354 97h0M355 97h0M357 97h0M360 97h0M361 97h0M362 97h0M363 97h0M365 97h0M367 97h0M369 97h0M371 97h0M381 97h0M390 97h0M391 97h0M397 97h0M398 97h0M406 97h0M348 98h0M353 98h0M356 98h0M357 98h0M359 98h0M361 98h0M367 98h0M374 98h0M377 98h0M390 98h0M391 98h0M392 98h0M396 98h0M399 98h0M406 98h0M333 99h0M336 99h0M355 99h0M357 99h0M360 99h0M361 99h0M364 99h0M366 99h0M380 99h0M383 99h0M387 99h0M390 99h0M393 99h0M394 99h0M398 99h0M399 99h0M415 99h0M351 100h0M356 100h0M362 100h0M367 100h0M368 100h0M379 100h0M381 100h0M384 100h0M386 100h0M388 100h0M389 100h0M393 100h0M394 100h0M395 100h0M401 100h0M412 100h0M416 100h0M347 101h0M348 101h0M356 101h0M359 101h0M363 101h0M388 101h0M396 101h0M397 101h0M402 101h0M403 101h0M406 101h0M333 102h0M348 102h0M350 102h0M352 102h0M355 102h0M356 102h0M359 102h0M361 102h0M362 102h0M363 102h0M366 102h0M367 102h0M379 102h0M402 102h0M357 103h0M360 103h0M361 103h0M368 103h0M377 103h0M385 103h0M389 103h0M390 103h0M399 103h0M357 104h0M358 104h0M366 104h0M367 104h0M370 104h0M385 104h0M394 104h0M408 104h0M351 105h0M358 105h0M365 105h0M366 105h0M369 105h0M382 105h0M384 105h0M385 105h0M394 105h0M398 105h0M400 105h0M401 105h0M403 105h0M408 105h0M353 106h0M354 106h0M358 106h0M359 106h0M365 106h0M368 106h0M376 106h0M389 106h0M398 106h0M400 106h0M402 106h0M415 106h0M335 107h0M339 107h0M347 107h0M355 107h0M357 107h0M360 107h0M362 107h0M366 107h0M371 107h0M376 107h0M379 107h0M383 107h0M385 107h0M388 107h0M394 107h0M395 107h0M412 107h0M352 108h0M365 108h0M370 108h0M372 108h0M382 108h0M387 108h0M390 108h0M399 108h0M406 108h0M417 108h0M350 109h0M353 109h0M357 109h0M368 109h0M378 109h0M385 109h0M395 109h0M401 109h0M410 109h0M331 110h0M341 110h0M345 110h0M352 110h0M358 110h0M360 110h0M363 110h0M366 110h0M378 110h0M392 110h0M396 110h0M398 110h0M401 110h0M411 110h0M343 111h0M356 111h0M358 111h0M375 111h0M379 111h0M381 111h0M391 111h0M395 111h0M401 111h0M403 111h0M405 111h0M336 112h0M340 112h0M344 112h0M348 112h0M349 112h0M352 112h0M353 112h0M354 112h0M355 112h0M359 112h0M362 112h0M363 112h0M364 112h0M368 112h0M384 112h0M389 112h0M391 112h0M404 112h0M336 113h0M358 113h0M359 113h0M360 113h0M363 113h0M368 113h0M386 113h0M394 113h0M403 113h0M333 114h0M350 114h0M358 114h0M362 114h0M363 114h0M366 114h0M367 114h0M370 114h0M374 114h0M385 114h0M388 114h0M394 114h0M399 114h0M331 115h0M342 115h0M346 115h0M359 115h0M360 115h0M362 115h0M369 115h0M371 115h0M390 115h0M398 115h0M404 115h0M350 116h0M351 116h0M360 116h0M363 116h0M376 116h0M385 116h0M386 116h0M397 116h0M404 116h0M339 117h0M367 117h0M336 118h0M342 118h0M354 118h0M361 118h0M365 118h0M370 118h0M392 118h0M394 118h0M351 119h0M356 119h0M358 119h0M359 119h0M364 119h0M365 119h0M368 119h0M383 119h0M385 119h0M396 119h0M347 120h0M352 120h0M355 120h0M360 120h0M361 120h0M368 120h0M384 120h0M387 120h0M390 120h0M345 121h0M352 121h0M354 121h0M360 121h0M362 121h0M363 121h0M372 121h0M383 121h0M395 121h0M403 121h0M405 121h0M344 122h0M352 122h0M357 122h0M362 122h0M392 122h0M398 122h0M399 122h0M413 122h0M354 123h0M355 123h0M359 123h0M363 123h0M377 123h0M384 123h0M386 123h0M395 123h0M347 124h0M349 124h0M358 124h0M365 124h0M366 124h0M370 124h0M399 124h0M344 125h0M356 125h0M376 125h0M396 125h0M356 126h0M363 126h0M392 126h0M354 127h0M358 127h0M362 127h0M395 127h0M400 127h0M401 127h0M410 127h0M411 127h0M351 128h0M362 128h0M369 128h0M384 128h0M386 128h0M403 128h0M346 129h0M354 129h0M357 129h0M362 129h0M383 129h0M385 129h0M387 129h0M405 129h0M416 129h0M348 130h0M358 130h0M363 130h0M366 130h0M380 130h0M400 130h0M360 131h0M365 131h0M370 131h0M379 131h0M359 132h0M361 132h0M405 132h0M344 133h0M361 133h0M369 133h0M383 133h0M394 133h0M405 133h0M359 134h0M372 134h0M354 135h0M372 135h0M395 135h0M396 135h0M354 136h0M377 136h0M388 136h0M400 136h0M412 136h0M356 137h0M363 137h0M339 138h0M340 139h0M359 139h0M414 139h0M424 139h0M351 140h0M360 141h0M363 141h0M381 141h0M391 141h0M392 141h0M417 142h0M336 143h0M407 143h0M355 144h0M421 145h0M356 147h0M385 148h0M411 148h0M343 150h0M403 151h0M408 151h0M355 152h0M345 154h0M369 154h0M347 155h0M370 155h0M337 156h0M413 158h0M357 159h0M362 160h0M381 160h0M413 161h0M400 162h0M392 163h0M415 163h0M374 167h0M396 167h0" fill="none" stroke="#000" shape-rendering="crispEdges" stroke-width="2" stroke-linecap="square"/>
<rect x="324.3" y="48.4" width="158.3" height="120.7" fill="none" stroke="#000" stroke-width="2.1"/><path d="M325.3 169.1v7M324.3 168.1h-7.2M337 169.1v4.2M324.3 159.2h-4.2M343.8 169.1v4.2M324.3 154h-4.2M348.7 169.1v4.2M324.3 150.3h-4.2M352.4 169.1v4.2M324.3 147.4h-4.2M355.5 169.1v4.2M324.3 145.1h-4.2M358.1 169.1v4.2M324.3 143.1h-4.2M360.4 169.1v4.2M324.3 141.4h-4.2M362.3 169.1v4.2M324.3 139.9h-4.2M364.1 169.1v7M324.3 138.5h-7.2M375.8 169.1v4.2M324.3 129.7h-4.2M382.6 169.1v4.2M324.3 124.5h-4.2M387.5 169.1v4.2M324.3 120.8h-4.2M391.3 169.1v4.2M324.3 117.9h-4.2M394.3 169.1v4.2M324.3 115.6h-4.2M396.9 169.1v4.2M324.3 113.6h-4.2M399.2 169.1v4.2M324.3 111.9h-4.2M401.2 169.1v4.2M324.3 110.4h-4.2M402.9 169.1v7M324.3 109h-7.2M414.6 169.1v4.2M324.3 100.1h-4.2M421.5 169.1v4.2M324.3 94.9h-4.2M426.3 169.1v4.2M324.3 91.2h-4.2M430.1 169.1v4.2M324.3 88.3h-4.2M433.1 169.1v4.2M324.3 86h-4.2M435.7 169.1v4.2M324.3 84h-4.2M438 169.1v4.2M324.3 82.3h-4.2M440 169.1v4.2M324.3 80.8h-4.2M441.8 169.1v7M324.3 79.4h-7.2M453.4 169.1v4.2M324.3 70.6h-4.2M460.3 169.1v4.2M324.3 65.4h-4.2M465.1 169.1v4.2M324.3 61.7h-4.2M468.9 169.1v4.2M324.3 58.8h-4.2M472 169.1v4.2M324.3 56.5h-4.2M474.6 169.1v4.2M324.3 54.5h-4.2M476.8 169.1v4.2M324.3 52.8h-4.2M478.8 169.1v4.2M324.3 51.3h-4.2M480.6 169.1v7M324.3 49.9h-7.2" stroke="#000" stroke-width="1.7" fill="none"/>
<text class="tk" transform="translate(314.9 192.2) scale(0.95 1)">10<tspan dy="-8" dx="0.4">0</tspan></text><text class="tk" transform="translate(311.7 178.5) rotate(-90) scale(0.95 1)">10<tspan dy="-8.4" dx="0.8">0</tspan></text><text class="tk" transform="translate(353.7 192.2) scale(0.95 1)">10<tspan dy="-8" dx="0.4">1</tspan></text><text class="tk" transform="translate(311.7 148.9) rotate(-90) scale(0.95 1)">10<tspan dy="-8.4" dx="0.8">1</tspan></text><text class="tk" transform="translate(392.5 192.2) scale(0.95 1)">10<tspan dy="-8" dx="0.4">2</tspan></text><text class="tk" transform="translate(311.7 119.4) rotate(-90) scale(0.95 1)">10<tspan dy="-8.4" dx="0.8">2</tspan></text><text class="tk" transform="translate(431.4 192.2) scale(0.95 1)">10<tspan dy="-8" dx="0.4">3</tspan></text><text class="tk" transform="translate(311.7 89.8) rotate(-90) scale(0.95 1)">10<tspan dy="-8.4" dx="0.8">3</tspan></text><text class="tk" transform="translate(470.2 192.2) scale(0.95 1)">10<tspan dy="-8" dx="0.4">4</tspan></text><text class="tk" transform="translate(311.7 60.3) rotate(-90) scale(0.95 1)">10<tspan dy="-8.4" dx="0.8">4</tspan></text>
<text class="yl" transform="translate(285.6 181.4) rotate(-90)">CD45RA ECD (610 nm)</text>
<text class="xl" transform="translate(337.2 206.9) scale(0.942 1)">CD27 FITC (530 nm)</text>
</g>
<g id="panelB">
<text class="pl" x="-1.6" y="267.8">B</text>
<text class="hd" transform="translate(45.3 289.4) scale(1.055 1)" text-anchor="middle">Mean</text>
<text class="hd" transform="translate(45.2 314.5) scale(1.055 1)" text-anchor="middle">SE</text>
<text class="hd" transform="translate(92.3 289.4) scale(1.055 1)" text-anchor="middle">26.9</text>
<text class="hd" transform="translate(92.3 314.5) scale(1.055 1)" text-anchor="middle">5.8</text>
<text class="hd" transform="translate(141 289.4) scale(1.055 1)" text-anchor="middle">53.4</text>
<text class="hd" transform="translate(141 314.5) scale(1.055 1)" text-anchor="middle">5.6</text>
<text class="hd" transform="translate(189.4 289.4) scale(1.055 1)" text-anchor="middle">13.0</text>
<text class="hd" transform="translate(189.4 314.5) scale(1.055 1)" text-anchor="middle">3.8</text>
<text class="hd" transform="translate(233.3 289.4) scale(1.055 1)" text-anchor="middle">6.8</text>
<text class="hd" transform="translate(233.3 314.5) scale(1.055 1)" text-anchor="middle">2.0</text>
<text class="hd" transform="translate(340.4 289.4) scale(1.055 1)" text-anchor="middle">21.4</text>
<text class="hd" transform="translate(340.4 314.5) scale(1.055 1)" text-anchor="middle">4.6</text>
<text class="hd" transform="translate(385 289.4) scale(1.055 1)" text-anchor="middle">22.4</text>
<text class="hd" transform="translate(385 314.5) scale(1.055 1)" text-anchor="middle">6.0</text>
<text class="hd" transform="translate(429.8 289.4) scale(1.055 1)" text-anchor="middle">13.7</text>
<text class="hd" transform="translate(429.8 314.5) scale(1.055 1)" text-anchor="middle">3.0</text>
<text class="hd" transform="translate(474.3 289.4) scale(1.055 1)" text-anchor="middle">42.5</text>
<text class="hd" transform="translate(474.3 314.5) scale(1.055 1)" text-anchor="middle">7.4</text>
<path d="M63.7 333.6V582" stroke="#000" stroke-width="2.6" fill="none"/>
<path d="M58.4 579.4L507.2 578.7" stroke="#000" stroke-width="2.8" fill="none"/>
<path d="M58.3 518.3H63.7M58.3 457.1H63.7M58.3 396H63.7M58.3 334.9H63.7" stroke="#000" stroke-width="2.6" fill="none"/>
<text class="hd" transform="translate(53.3 584.6) scale(1.055 1)" text-anchor="end">0</text>
<text class="hd" transform="translate(53.3 523.5) scale(1.055 1)" text-anchor="end">25</text>
<text class="hd" transform="translate(53.3 462.3) scale(1.055 1)" text-anchor="end">50</text>
<text class="hd" transform="translate(53.3 401.2) scale(1.055 1)" text-anchor="end">75</text>
<text class="hd" transform="translate(53.3 340.1) scale(1.055 1)" text-anchor="end">100</text>
<text class="ya" transform="translate(15.1 528.3) rotate(-90)">% positive cells</text>
<text class="ct" x="92" y="600.7" text-anchor="middle">CD27+</text>
<text class="ct" x="92" y="616.0" text-anchor="middle">RA+</text>
<text class="ct" x="141" y="600.7" text-anchor="middle">CD27+</text>
<text class="ct" x="141" y="616.0" text-anchor="middle">RA-</text>
<text class="ct" x="190" y="600.7" text-anchor="middle">CD27-</text>
<text class="ct" x="190" y="616.0" text-anchor="middle">RA-</text>
<text class="ct" x="239.2" y="600.7" text-anchor="middle">CD27-</text>
<text class="ct" x="239.2" y="616.0" text-anchor="middle">RA+</text>
<text class="ct" x="338.3" y="600.7" text-anchor="middle">CD27+</text>
<text class="ct" x="338.3" y="616.0" text-anchor="middle">RA+</text>
<text class="ct" x="388" y="600.7" text-anchor="middle">CD27+</text>
<text class="ct" x="388" y="616.0" text-anchor="middle">RA-</text>
<text class="ct" x="436.6" y="600.7" text-anchor="middle">CD27-</text>
<text class="ct" x="436.6" y="616.0" text-anchor="middle">RA-</text>
<text class="ct" x="485.6" y="600.7" text-anchor="middle">CD27-</text>
<text class="ct" x="485.6" y="616.0" text-anchor="middle">RA+</text>
<path d="M64 622.4H264.8M317 622.3H518.4" stroke="#000" stroke-width="2.7" fill="none"/>
<text class="gp" x="164.4" y="645.9" text-anchor="middle">BMLF1</text>
<text class="gp" style="font-size:18.7px" x="417.6" y="644.9" text-anchor="middle">pp65</text>
<circle cx="88.6" cy="430.7" r="6.7" fill="#000" stroke="#000" stroke-width="1.35" stroke-linejoin="miter"/>
<path d="M88.6 499.1L95.5 506L88.6 512.9L81.7 506Z" fill="#000" stroke="#000" stroke-width="1.35" stroke-linejoin="miter"/>
<path d="M88.6 493.8L93.7 504.3L83.5 504.3Z" fill="#000" stroke="#000" stroke-width="1.35" stroke-linejoin="miter"/>
<rect x="83.9" y="508.8" width="9.4" height="9.4" fill="#000" stroke="#000" stroke-width="1.35" stroke-linejoin="miter"/>
<path d="M88.6 500.4L95.5 513.9L81.7 513.9Z" fill="#fff" stroke="#000" stroke-width="1.35" stroke-linejoin="miter"/>
<circle cx="88.6" cy="554.6" r="6.6" fill="#fff" stroke="#000" stroke-width="1.35" stroke-linejoin="miter"/>
<path d="M88.6 538.1L96.1 545.6L88.6 553.1L81.1 545.6Z" fill="#fff" stroke="#000" stroke-width="1.35" stroke-linejoin="miter"/>
<rect x="84" y="547" width="9.2" height="9.2" fill="#fff" stroke="#000" stroke-width="1.35" stroke-linejoin="miter"/>
<rect x="133.4" y="385.4" width="9.2" height="9.2" fill="#fff" stroke="#000" stroke-width="1.35" stroke-linejoin="miter"/>
<path d="M138 438.8L145.5 446.3L138 453.8L130.5 446.3Z" fill="#fff" stroke="#000" stroke-width="1.35" stroke-linejoin="miter"/>
<path d="M138 430.7L143.1 441.2L132.9 441.2Z" fill="#000" stroke="#000" stroke-width="1.35" stroke-linejoin="miter"/>
<path d="M138 416.9L144.9 423.8L138 430.7L131.1 423.8Z" fill="#000" stroke="#000" stroke-width="1.35" stroke-linejoin="miter"/>
<rect x="133.3" y="422.9" width="9.4" height="9.4" fill="#000" stroke="#000" stroke-width="1.35" stroke-linejoin="miter"/>
<circle cx="138" cy="462.2" r="6.6" fill="#fff" stroke="#000" stroke-width="1.35" stroke-linejoin="miter"/>
<circle cx="138" cy="501.9" r="6.7" fill="#000" stroke="#000" stroke-width="1.35" stroke-linejoin="miter"/>
<path d="M138 493.3L144.9 506.8L131.1 506.8Z" fill="#fff" stroke="#000" stroke-width="1.35" stroke-linejoin="miter"/>
<circle cx="187" cy="499.2" r="6.6" fill="#fff" stroke="#000" stroke-width="1.35" stroke-linejoin="miter"/>
<path d="M187 520.2L194.5 527.7L187 535.2L179.5 527.7Z" fill="#fff" stroke="#000" stroke-width="1.35" stroke-linejoin="miter"/>
<path d="M187 521.8L193.9 535.3L180.1 535.3Z" fill="#fff" stroke="#000" stroke-width="1.35" stroke-linejoin="miter"/>
<rect x="182.4" y="548.7" width="9.2" height="9.2" fill="#fff" stroke="#000" stroke-width="1.35" stroke-linejoin="miter"/>
<path d="M187 555.5L192.1 566L181.9 566Z" fill="#000" stroke="#000" stroke-width="1.35" stroke-linejoin="miter"/>
<rect x="182.3" y="554.9" width="9.4" height="9.4" fill="#000" stroke="#000" stroke-width="1.35" stroke-linejoin="miter"/>
<path d="M187 558.4L193.9 565.3L187 572.2L180.1 565.3Z" fill="#000" stroke="#000" stroke-width="1.35" stroke-linejoin="miter"/>
<circle cx="187" cy="572.6" r="6.7" fill="#000" stroke="#000" stroke-width="1.35" stroke-linejoin="miter"/>
<path d="M236.8 566.5L241.9 577L231.7 577Z" fill="#000" stroke="#000" stroke-width="1.35" stroke-linejoin="miter"/>
<path d="M236.8 570.1L243.7 577L236.8 583.9L229.9 577Z" fill="#000" stroke="#000" stroke-width="1.35" stroke-linejoin="miter"/>
<circle cx="236.8" cy="564.4" r="6.7" fill="#000" stroke="#000" stroke-width="1.35" stroke-linejoin="miter"/>
<rect x="232.2" y="571.4" width="9.2" height="9.2" fill="#fff" stroke="#000" stroke-width="1.35" stroke-linejoin="miter"/>
<rect x="232.1" y="566.4" width="9.4" height="9.4" fill="#000" stroke="#000" stroke-width="1.35" stroke-linejoin="miter"/>
<path d="M236.8 544.7L244.3 552.2L236.8 559.7L229.3 552.2Z" fill="#fff" stroke="#000" stroke-width="1.35" stroke-linejoin="miter"/>
<circle cx="236.8" cy="555.2" r="6.6" fill="#fff" stroke="#000" stroke-width="1.35" stroke-linejoin="miter"/>
<path d="M236.8 529L243.7 542.5L229.9 542.5Z" fill="#fff" stroke="#000" stroke-width="1.35" stroke-linejoin="miter"/>
<circle cx="334.9" cy="456.9" r="6.7" fill="#000" stroke="#000" stroke-width="1.35" stroke-linejoin="miter"/>
<rect x="330.2" y="503.3" width="9.4" height="9.4" fill="#000" stroke="#000" stroke-width="1.35" stroke-linejoin="miter"/>
<path d="M334.9 520.5L340 531L329.8 531Z" fill="#000" stroke="#000" stroke-width="1.35" stroke-linejoin="miter"/>
<path d="M334.9 518.4L341.8 525.3L334.9 532.2L328 525.3Z" fill="#000" stroke="#000" stroke-width="1.35" stroke-linejoin="miter"/>
<circle cx="334.9" cy="538.8" r="6.6" fill="#fff" stroke="#000" stroke-width="1.35" stroke-linejoin="miter"/>
<path d="M334.9 542.3L342.4 549.8L334.9 557.3L327.4 549.8Z" fill="#fff" stroke="#000" stroke-width="1.35" stroke-linejoin="miter"/>
<path d="M334.9 535L341.8 548.5L328 548.5Z" fill="#fff" stroke="#000" stroke-width="1.35" stroke-linejoin="miter"/>
<rect x="330.3" y="551.6" width="9.2" height="9.2" fill="#fff" stroke="#000" stroke-width="1.35" stroke-linejoin="miter"/>
<path d="M384.2 453.6L391.1 460.5L384.2 467.4L377.3 460.5Z" fill="#000" stroke="#000" stroke-width="1.35" stroke-linejoin="miter"/>
<rect x="379.6" y="461.6" width="9.2" height="9.2" fill="#fff" stroke="#000" stroke-width="1.35" stroke-linejoin="miter"/>
<path d="M384.2 505.7L389.3 516.2L379.1 516.2Z" fill="#000" stroke="#000" stroke-width="1.35" stroke-linejoin="miter"/>
<rect x="379.5" y="528.5" width="9.4" height="9.4" fill="#000" stroke="#000" stroke-width="1.35" stroke-linejoin="miter"/>
<circle cx="384.2" cy="549.6" r="6.7" fill="#000" stroke="#000" stroke-width="1.35" stroke-linejoin="miter"/>
<circle cx="384.2" cy="545.7" r="6.6" fill="#fff" stroke="#000" stroke-width="1.35" stroke-linejoin="miter"/>
<path d="M384.2 562.3L391.7 569.8L384.2 577.3L376.7 569.8Z" fill="#fff" stroke="#000" stroke-width="1.35" stroke-linejoin="miter"/>
<path d="M384.2 551.4L391.1 564.9L377.3 564.9Z" fill="#fff" stroke="#000" stroke-width="1.35" stroke-linejoin="miter"/>
<rect x="428.8" y="507.6" width="9.2" height="9.2" fill="#fff" stroke="#000" stroke-width="1.35" stroke-linejoin="miter"/>
<path d="M433.4 525.1L438.5 535.6L428.3 535.6Z" fill="#000" stroke="#000" stroke-width="1.35" stroke-linejoin="miter"/>
<path d="M433.4 532.4L440.3 539.3L433.4 546.2L426.5 539.3Z" fill="#000" stroke="#000" stroke-width="1.35" stroke-linejoin="miter"/>
<path d="M433.4 520.4L440.3 533.9L426.5 533.9Z" fill="#fff" stroke="#000" stroke-width="1.35" stroke-linejoin="miter"/>
<path d="M433.4 546.3L440.9 553.8L433.4 561.3L425.9 553.8Z" fill="#fff" stroke="#000" stroke-width="1.35" stroke-linejoin="miter"/>
<circle cx="433.4" cy="556.6" r="6.6" fill="#fff" stroke="#000" stroke-width="1.35" stroke-linejoin="miter"/>
<rect x="428.7" y="566.9" width="9.4" height="9.4" fill="#000" stroke="#000" stroke-width="1.35" stroke-linejoin="miter"/>
<circle cx="433.4" cy="571" r="6.7" fill="#000" stroke="#000" stroke-width="1.35" stroke-linejoin="miter"/>
<path d="M482.4 392.5L489.9 400L482.4 407.5L474.9 400Z" fill="#fff" stroke="#000" stroke-width="1.35" stroke-linejoin="miter"/>
<circle cx="482.4" cy="430.4" r="6.6" fill="#fff" stroke="#000" stroke-width="1.35" stroke-linejoin="miter"/>
<path d="M482.4 437.4L489.3 450.9L475.5 450.9Z" fill="#fff" stroke="#000" stroke-width="1.35" stroke-linejoin="miter"/>
<rect x="477.7" y="454" width="9.4" height="9.4" fill="#000" stroke="#000" stroke-width="1.35" stroke-linejoin="miter"/>
<path d="M482.4 488.9L487.5 499.4L477.3 499.4Z" fill="#000" stroke="#000" stroke-width="1.35" stroke-linejoin="miter"/>
<circle cx="482.4" cy="490.7" r="6.7" fill="#000" stroke="#000" stroke-width="1.35" stroke-linejoin="miter"/>
<path d="M482.4 539.8L489.3 546.7L482.4 553.6L475.5 546.7Z" fill="#000" stroke="#000" stroke-width="1.35" stroke-linejoin="miter"/>
<rect x="477.8" y="530.7" width="9.2" height="9.2" fill="#fff" stroke="#000" stroke-width="1.35" stroke-linejoin="miter"/>
</g>
</svg>
</body>
</html>
